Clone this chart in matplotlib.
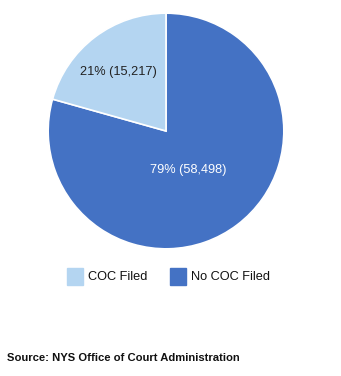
import matplotlib.pyplot as plt

plt.rcParams['font.family'] = ['Liberation Sans', 'DejaVu Sans']

categories = ['No COC Filed', 'COC Filed']
counts = [58498, 15217]
colors = ['#4472c4', '#b4d5f1']

W, H = 341, 376
fig = plt.figure(figsize=(W / 100, H / 100), dpi=100)

# pie area in pixel units: centre (166, 131), radius 119
cx, cy, r = 166, 131, 119
ax = fig.add_axes([(cx - r) / W, 1 - (cy + r) / H, 2 * r / W, 2 * r / H])
wedges, _ = ax.pie(counts, colors=colors, startangle=90, counterclock=False,
                   wedgeprops=dict(edgecolor='white', linewidth=1.2))
ax.set_xlim(-1.01, 1.01)
ax.set_ylim(-1.01, 1.01)
ax.set_aspect('equal')

total = sum(counts)
pcts = [round(100 * c / total) for c in counts]
ax.text(0.19, -0.33, f'{pcts[0]}% ({counts[0]:,})', color='white',
        ha='center', va='center', fontsize=9.2)
ax.text(-0.40, 0.50, f'{pcts[1]}% ({counts[1]:,})', color='#222222',
        ha='center', va='center', fontsize=9.2)

# legend
legend_items = [(categories[1], colors[1], 67), (categories[0], colors[0], 170)]
for label, col, x in legend_items:
    fig.patches.append(plt.Rectangle((x / W, 1 - 285 / H), 16 / W, 17 / H,
                                     color=col, transform=fig.transFigure))
    fig.text((x + 21) / W, 1 - 277.5 / H, label, fontsize=9.2, color='#111111',
             va='center', ha='left')

fig.text(7 / W, 1 - 358 / H, 'Source: NYS Office of Court Administration',
         fontsize=8.1, fontweight='bold', color='#111111', va='center', ha='left')

fig.savefig('out.png', dpi=100)
